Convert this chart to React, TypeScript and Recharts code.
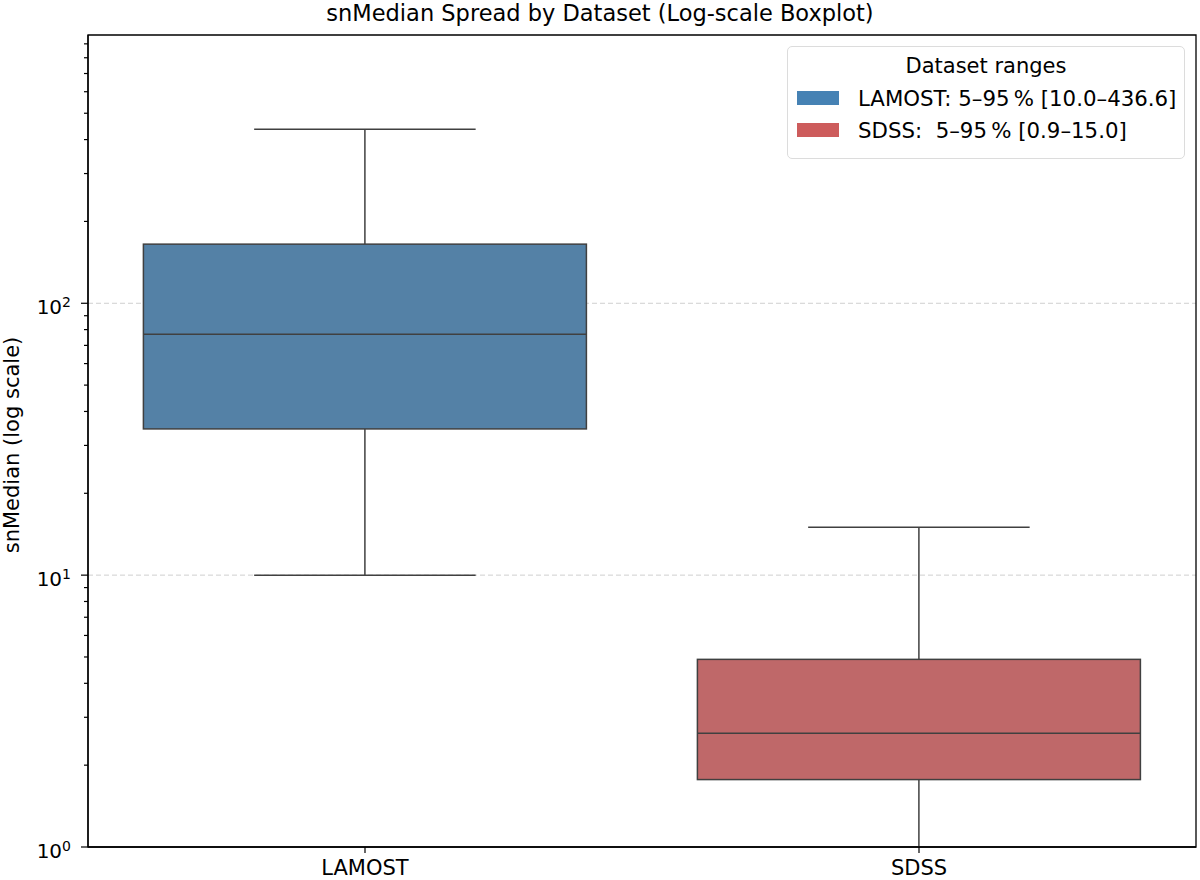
import { ComposedChart, Bar, XAxis, YAxis, CartesianGrid, ReferenceArea, Legend } from 'recharts'

const datasets = ['LAMOST', 'SDSS']
const whiskerLow = [10.0, 0.9]
const quartile1 = [34.5, 1.77]
const medians = [77, 2.62]
const quartile3 = [165, 4.9]
const whiskerHigh = [436.6, 15.0]
const boxColors = ['#5481a6', '#bf6869']
const legendColors = ['#4682b4', '#cd5c5c']
const legendLabels = ['LAMOST: 5–95\u2009% [10.0–436.6]', 'SDSS:  5–95\u2009% [0.9–15.0]']

const majorTicks = [1, 10, 100]
const majorExponents = ['0', '1', '2']
const minorTicks = [2, 3, 4, 5, 6, 7, 8, 9, 20, 30, 40, 50, 60, 70, 80, 90, 200, 300, 400, 500, 600, 700, 800, 900]
const gridValues = [10, 100]
const yDomain = [1, 970]

const FONT = 'DejaVu Sans, sans-serif'
const EDGE = '#404040'

const rows = datasets.map((name, i) => ({
  name,
  low: whiskerLow[i],
  q1: quartile1[i],
  median: medians[i],
  q3: quartile3[i],
  high: whiskerHigh[i],
  color: boxColors[i],
}))

// box + whiskers; the bar gives the q1..q3 span, the rest is placed on the same log mapping
const BoxShape = (props: any) => {
  const { x, y, width, height, payload } = props
  const top = Math.min(y, y + height)
  const h = Math.abs(height)
  const lo = Math.log10(payload.q1)
  const hi = Math.log10(payload.q3)
  const toY = (v: number) => top + ((hi - Math.log10(v)) / (hi - lo)) * h
  const cx = x + width / 2
  const cap = width / 4
  const yHigh = toY(payload.high)
  const yLow = toY(payload.low)
  const yMed = toY(payload.median)
  return (
    <g>
      <line x1={cx} x2={cx} y1={yHigh} y2={top} stroke={EDGE} strokeWidth={1.5} />
      <line x1={cx - cap} x2={cx + cap} y1={yHigh} y2={yHigh} stroke={EDGE} strokeWidth={1.5} />
      <line x1={cx} x2={cx} y1={top + h} y2={yLow} stroke={EDGE} strokeWidth={1.5} />
      <line x1={cx - cap} x2={cx + cap} y1={yLow} y2={yLow} stroke={EDGE} strokeWidth={1.5} />
      <rect x={x} y={top} width={width} height={h} fill={payload.color} stroke={EDGE} strokeWidth={1.5} />
      <line x1={x} x2={x + width} y1={yMed} y2={yMed} stroke={EDGE} strokeWidth={1.5} />
    </g>
  )
}

const YTick = (props: any) => {
  const { x, y, payload } = props
  const idx = majorTicks.indexOf(payload.value)
  const major = idx >= 0
  return (
    <g>
      <line x1={x - (major ? 7 : 4)} x2={x} y1={y} y2={y} stroke="#000" strokeWidth={1.2} />
      {major && (
        <text x={x - 17} y={y + 11} textAnchor="end" fill="#000" fontSize={20} fontFamily={FONT}>
          10
          <tspan dy={-7} fontSize={14}>{majorExponents[idx]}</tspan>
        </text>
      )}
    </g>
  )
}

const LegendBox = () => (
  <div
    style={{
      boxSizing: 'border-box',
      width: 398,
      height: 113,
      border: '1px solid #dcdcdc',
      borderRadius: 5,
      background: 'rgba(255,255,255,0.85)',
      padding: '6px 9px 0 9px',
      fontFamily: FONT,
      color: '#000',
    }}
  >
    <div style={{ textAlign: 'center', fontSize: 21, lineHeight: '26px', marginBottom: 3 }}>Dataset ranges</div>
    {legendLabels.map((label, i) => (
      <div key={label} style={{ display: 'flex', alignItems: 'center', height: 32 }}>
        <span style={{ width: 42, height: 14, background: legendColors[i], marginRight: 19, flexShrink: 0 }} />
        <span style={{ fontSize: 21.3, whiteSpace: 'pre' }}>{label}</span>
      </div>
    ))}
  </div>
)

const TitleLabel = ({ viewBox }: any) => (
  <text x={600} y={viewBox.y - 14} textAnchor="middle" fontSize={22.5} fontFamily={FONT} fill="#000">
    snMedian Spread by Dataset (Log-scale Boxplot)
  </text>
)

export default function App() {
  return (
    <div style={{ position: 'absolute', left: 0, top: 0, width: 1200, height: 880, background: '#fff', fontFamily: FONT }}>
      <ComposedChart
        width={1200}
        height={880}
        data={rows}
        margin={{ top: 35, right: 4, bottom: 0, left: 0 }}
        barCategoryGap="10%"
      >
        <CartesianGrid
          vertical={false}
          horizontalValues={gridValues}
          stroke="#cfcfcf"
          strokeWidth={1}
          strokeDasharray="5 3"
        />
        <XAxis
          dataKey="name"
          height={33}
          axisLine={{ stroke: '#000', strokeWidth: 1.3 }}
          tickLine={{ stroke: '#000', strokeWidth: 1.2 }}
          tickSize={6}
          tickMargin={7}
          tick={{ fontSize: 21, fill: '#000', fontFamily: FONT }}
        />
        <YAxis
          scale="log"
          domain={yDomain}
          allowDataOverflow
          width={88}
          ticks={[...majorTicks, ...minorTicks]}
          interval={0}
          tickSize={0}
          tickMargin={0}
          tickLine={false}
          tick={<YTick />}
          axisLine={{ stroke: '#000', strokeWidth: 1.3 }}
          label={{
            content: ({ viewBox }: any) => {
              const cy = viewBox.y + viewBox.height / 2 + 4
              return (
                <text
                  x={12}
                  y={cy}
                  transform={`rotate(-90 12 ${cy})`}
                  textAnchor="middle"
                  dominantBaseline="central"
                  fontSize={21}
                  fontFamily={FONT}
                  fill="#000"
                >
                  snMedian (log scale)
                </text>
              )
            },
          }}
        />
        <Bar
          dataKey={(d: any) => [d.q1, d.q3]}
          shape={<BoxShape />}
          isAnimationActive={false}
        />
        <ReferenceArea
          y1={yDomain[0]}
          y2={yDomain[1]}
          fill="none"
          fillOpacity={0}
          stroke="#000"
          strokeWidth={1.3}
          label={{ content: TitleLabel }}
        />
        <Legend
          layout="vertical"
          align="center"
          verticalAlign="middle"
          content={() => <LegendBox />}
          wrapperStyle={{ left: 787, top: 46, width: 398, height: 113 }}
        />
      </ComposedChart>
    </div>
  )
}
